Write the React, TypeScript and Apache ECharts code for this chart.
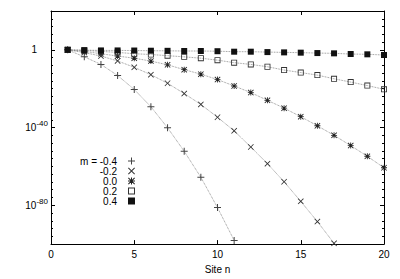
import React, { useEffect, useRef } from "react";
import * as echarts from "echarts";

// Site index n
const sites: number[] = [1, 2, 3, 4, 5, 6, 7, 8, 9, 10, 11, 12, 13, 14, 15, 16, 17, 18, 19, 20];

// log10 of the amplitude at each site, per value of m
const seriesNames: string[] = ["m = -0.4", "-0.2", "0.0", "0.2", "0.4"];
const logAmpMm04: number[] = [0, -3.6, -7.5, -13.2, -20.4, -29.3, -40.1, -52.2, -65.6, -81.2, -98.1];
const logAmpMm02: number[] = [0, -1.4, -3.2, -5.7, -9.0, -12.8, -17.2, -22.5, -28.1, -34.7, -41.7, -50.0, -58.6, -67.9, -78.0, -88.4, -99.6];
const logAmpM00: number[] = [0, -0.8, -2.0, -3.2, -4.3, -5.8, -7.7, -10.2, -12.5, -15.3, -18.6, -22.0, -26.0, -30.0, -34.4, -39.1, -44.0, -49.3, -54.8, -60.7];
const logAmpM02: number[] = [0, -0.3, -0.8, -1.3, -2.0, -2.4, -3.0, -3.6, -4.3, -5.3, -6.6, -7.5, -8.7, -10.4, -11.7, -13.0, -14.9, -16.6, -18.4, -20.3];
const logAmpM04: number[] = [0, -0.15, -0.3, -0.3, -0.35, -0.45, -0.5, -0.6, -0.6, -0.7, -0.95, -0.95, -1.15, -1.3, -1.45, -1.65, -1.8, -2.15, -2.3, -2.65];

// Axis ticks (log10 exponents)
const yMajorTicks: number[] = [-80, -40, 0];
const xTickLabels: number[] = [0, 5, 10, 15, 20];

const FONT = "'Liberation Sans', Arial, Helvetica, sans-serif";

const PLUS = "path://M3,0h1v3h3v1h-3v3h-1v-3h-3v-1h3z";
const CROSS = "path://M0,0.7L0.7,0L3.5,2.8L6.3,0L7,0.7L4.2,3.5L7,6.3L6.3,7L3.5,4.2L0.7,7L0,6.3L2.8,3.5Z";
const STAR =
  "path://M3,0h1v3h3v1h-3v3h-1v-3h-3v-1h3zM0,0.7L0.7,0L3.5,2.8L6.3,0L7,0.7L4.2,3.5L7,6.3L6.3,7L3.5,4.2L0.7,7L0,6.3L2.8,3.5Z";
const OPEN_SQ = "path://M0,0H7V7H0ZM1,1V6H6V1Z";
const FILLED_SQ = "path://M0,0H7V7H0Z";

export default function App() {
  const ref = useRef<HTMLDivElement>(null);

  useEffect(() => {
    if (!ref.current) return;
    const chart = echarts.init(ref.current, undefined, { renderer: "svg" });

    const allSeries = [logAmpMm04, logAmpMm02, logAmpM00, logAmpM02, logAmpM04];
    const symbols = [PLUS, CROSS, STAR, OPEN_SQ, FILLED_SQ];
    const sizes = [7, 6, 6, 6, 6];
    const markColors = ["#444", "#333", "#222", "#333", "#111"];

    const series = allSeries.map((vals, i) => ({
      name: seriesNames[i],
      type: "line",
      xAxisIndex: 0,
      yAxisIndex: 0,
      data: vals.map((v, k) => [sites[k], v]),
      symbol: symbols[i],
      symbolSize: sizes[i],
      showSymbol: true,
      clip: true,
      itemStyle: { color: markColors[i] },
      lineStyle: { color: "#777", width: 0.8, type: "dotted" },
      z: 2 + i,
    }));

    const minorTickAxis = (position: string) => ({
      type: "value",
      position,
      min: -100,
      max: 20,
      interval: 4,
      axisLine: { show: true, lineStyle: { color: "#000", width: 1 } },
      axisTick: { show: true, inside: true, length: 2, lineStyle: { color: "#000", width: 1 } },
      axisLabel: { show: false },
      splitLine: { show: false },
    });
    const majorTickAxis = (position: string, labels: boolean) => ({
      type: "value",
      position,
      min: -100,
      max: 20,
      interval: 4,
      axisLine: { show: false },
      axisTick: {
        show: true,
        inside: true,
        length: 4,
        customValues: yMajorTicks,
        lineStyle: { color: "#000", width: 1 },
      },
      axisLabel: labels
        ? {
            show: true,
            customValues: yMajorTicks,
            margin: 3,
            color: "#000",
            fontFamily: FONT,
            formatter: (v: number) => (v === 0 ? "{one|1}" : `{b|10}{s|${v}}`),
            rich: {
              one: { fontSize: 10, lineHeight: 16, fontFamily: FONT, color: "#000", padding: [0, 11, 0, 0] },
              b: { fontSize: 10, lineHeight: 16, fontFamily: FONT, color: "#000" },
              s: { fontSize: 8, lineHeight: 3, verticalAlign: "top", fontFamily: FONT, color: "#000" },
            },
          }
        : { show: false },
      splitLine: { show: false },
    });

    const option: any = {
      animation: false,
      backgroundColor: "#fff",
      grid: { left: 51, right: 16, top: 11, bottom: 30, containLabel: false },
      legend: {
        orient: "vertical",
        right: 265,
        top: 156,
        padding: 0,
        itemGap: 0,
        itemWidth: 7,
        itemHeight: 7,
        align: "right",
        selectedMode: false,
        data: seriesNames.map((n, i) => ({ name: n, icon: symbols[i] })),
        textStyle: { fontSize: 10, lineHeight: 9.6, color: "#000", fontFamily: FONT, padding: [0, 6, 0, 0] },
      },
      xAxis: [
        {
          type: "value",
          position: "bottom",
          min: xTickLabels[0],
          max: xTickLabels[xTickLabels.length - 1],
          interval: 5,
          name: "Site n",
          nameLocation: "middle",
          nameGap: 18,
          nameTextStyle: { fontSize: 10, color: "#000", fontFamily: FONT },
          axisLine: { show: true, onZero: false, lineStyle: { color: "#000", width: 1 } },
          axisTick: { show: true, inside: true, length: 4, lineStyle: { color: "#000", width: 1 } },
          axisLabel: { show: true, fontSize: 10, color: "#000", margin: 5, fontFamily: FONT, showMinLabel: true, showMaxLabel: true },
          splitLine: { show: false },
        },
        {
          type: "value",
          position: "top",
          min: xTickLabels[0],
          max: xTickLabels[xTickLabels.length - 1],
          interval: 5,
          axisLine: { show: true, onZero: false, lineStyle: { color: "#000", width: 1 } },
          axisTick: { show: true, inside: true, length: 4, lineStyle: { color: "#000", width: 1 } },
          axisLabel: { show: false },
          splitLine: { show: false },
        },
      ],
      yAxis: [
        minorTickAxis("left"),
        majorTickAxis("left", true),
        minorTickAxis("right"),
        majorTickAxis("right", false),
      ],
      series,
    };

    chart.setOption(option);
    return () => chart.dispose();
  }, []);

  return (
    <div
      ref={ref}
      style={{ position: "fixed", left: 0, top: 0, width: 400, height: 279, background: "#fff" }}
    />
  );
}
